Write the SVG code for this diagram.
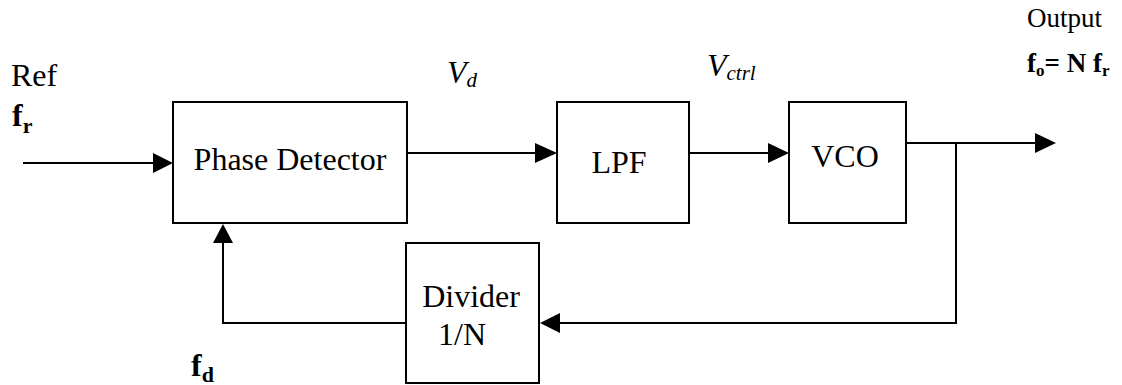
<svg xmlns="http://www.w3.org/2000/svg" width="1122" height="385" viewBox="0 0 1122 385">
<style>
.box{fill:#fff;stroke:#000;stroke-width:2}
.ln{fill:none;stroke:#000;stroke-width:2}
.ah{fill:#000;stroke:none}
text{font-family:"Liberation Serif","Times New Roman",serif;fill:#000}
.t{font-size:32px}
.b{font-weight:bold}
.i{font-style:italic}
</style>
<g id="connectors">
<line class="ln" x1="23" y1="163" x2="155" y2="163"/>
<polygon class="ah" points="173,163 153,153 153,173"/>
<line class="ln" x1="407" y1="153" x2="538" y2="153"/>
<polygon class="ah" points="557,153 535,143 535,163"/>
<line class="ln" x1="689" y1="153" x2="770" y2="153"/>
<polygon class="ah" points="789,153 768,143 768,163"/>
<line class="ln" x1="906" y1="143" x2="1037" y2="143"/>
<polygon class="ah" points="1056,143 1035,133 1035,153"/>
<polyline class="ln" points="956,143 956,323 558,323"/>
<polygon class="ah" points="540,323 560,313 560,333"/>
<polyline class="ln" points="406,323 223,323 223,242"/>
<polygon class="ah" points="223,224 213,243 233,243"/>
</g>
<g id="phase-detector">
<rect class="box" x="173" y="102" width="234" height="121"/>
<text class="t" x="290" y="170" text-anchor="middle">Phase Detector</text>
</g>
<g id="lpf">
<rect class="box" x="557" y="102" width="132" height="121"/>
<text class="t" x="619" y="173" text-anchor="middle">LPF</text>
</g>
<g id="vco">
<rect class="box" x="789" y="102" width="117" height="121"/>
<text class="t" x="845" y="167" text-anchor="middle">VCO</text>
</g>
<g id="divider">
<rect class="box" x="406" y="243" width="133" height="140"/>
<text class="t" x="471" y="307" text-anchor="middle">Divider</text>
<text class="t" x="462" y="345" text-anchor="middle">1/N</text>
</g>
<g id="labels">
<text class="t" x="11" y="86">Ref</text>
<text class="t b" x="12" y="126">f<tspan font-size="22" dy="7">r</tspan></text>
<text class="t i" x="447" y="83">V<tspan font-size="21" dy="4">d</tspan></text>
<text class="t i" x="707" y="76">V<tspan font-size="21" dy="4">ctrl</tspan></text>
<text x="1027" y="27" font-size="27">Output</text>
<text class="b" x="1027" y="72" font-size="27">f<tspan font-size="17" dy="4">o</tspan><tspan dy="-4">= N f</tspan><tspan font-size="17" dy="4">r</tspan></text>
<text class="t b" x="191" y="376">f<tspan font-size="22" dy="6">d</tspan></text>
</g>
</svg>
